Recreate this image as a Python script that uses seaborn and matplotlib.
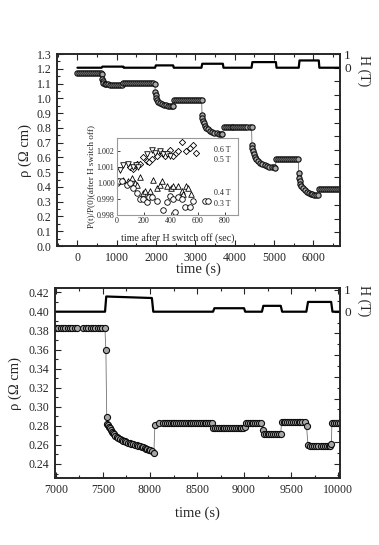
import numpy as np
import pandas as pd
import seaborn as sns
import matplotlib.pyplot as plt
from matplotlib.ticker import MultipleLocator, FuncFormatter

sns.set_theme(style='ticks')
plt.rcParams['font.family'] = ['Liberation Serif', 'DejaVu Serif']

# ---- top panel: resistivity vs time (s) ----
t_top = [
    0, 50, 100, 150, 200, 250, 300, 350, 400, 450, 500, 550, 600, 615,
    625, 640, 660, 690, 730, 780, 830, 880, 930, 980, 1030, 1080, 1130,
    1170, 1220, 1270, 1320, 1370, 1420, 1470, 1520, 1570, 1620, 1670, 1720, 1770, 1820, 1870, 1920, 1965,
    1985, 1995, 2010, 2030, 2060, 2100, 2150, 2200, 2250, 2300, 2350, 2400, 2430,
    2460, 2510, 2560, 2610, 2660, 2710, 2760, 2810, 2860, 2910, 2960, 3010, 3060, 3110, 3160,
    3170, 3180, 3195, 3215, 3240, 3270, 3310, 3360, 3420, 3480, 3540, 3600, 3650, 3690,
    3720, 3770, 3820, 3870, 3920, 3970, 4020, 4070, 4120, 4170, 4220, 4270, 4310, 4380, 4430,
    4440, 4450, 4465, 4485, 4510, 4545, 4590, 4640, 4700, 4760, 4820, 4880, 4940, 5000, 5030,
    5060, 5110, 5160, 5210, 5260, 5310, 5360, 5410, 5460, 5510, 5560, 5620,
    5630, 5640, 5655, 5675, 5700, 5735, 5780, 5830, 5880, 5930, 5980, 6030, 6080, 6120,
    6150, 6200, 6250, 6300, 6350, 6400, 6450, 6500, 6550, 6600, 6650, 6700,
]
rho_top = [
    1.171, 1.171, 1.171, 1.171, 1.171, 1.171, 1.171, 1.171, 1.171, 1.171, 1.171, 1.171, 1.170, 1.164,
    1.130, 1.115, 1.105, 1.100, 1.097, 1.094, 1.092, 1.091, 1.090, 1.089, 1.088, 1.088, 1.092,
    1.106, 1.106, 1.106, 1.106, 1.106, 1.106, 1.106, 1.106, 1.106, 1.106, 1.106, 1.106, 1.106, 1.106, 1.106, 1.106, 1.100,
    1.040, 1.020, 1.005, 0.990, 0.978, 0.968, 0.961, 0.956, 0.953, 0.951, 0.949, 0.948, 0.950,
    0.990, 0.990, 0.990, 0.990, 0.990, 0.990, 0.990, 0.990, 0.990, 0.990, 0.990, 0.990, 0.990, 0.990, 0.990,
    0.890, 0.866, 0.845, 0.830, 0.815, 0.800, 0.790, 0.780, 0.773, 0.767, 0.763, 0.761, 0.759, 0.758,
    0.805, 0.805, 0.805, 0.805, 0.805, 0.805, 0.805, 0.805, 0.805, 0.805, 0.805, 0.805, 0.805, 0.805, 0.805,
    0.685, 0.662, 0.640, 0.620, 0.605, 0.590, 0.575, 0.563, 0.553, 0.546, 0.541, 0.537, 0.534, 0.532, 0.531,
    0.590, 0.590, 0.590, 0.590, 0.590, 0.590, 0.590, 0.590, 0.590, 0.590, 0.590, 0.590,
    0.493, 0.460, 0.440, 0.420, 0.405, 0.390, 0.378, 0.368, 0.360, 0.355, 0.351, 0.348, 0.346, 0.345,
    0.383, 0.383, 0.383, 0.383, 0.383, 0.383, 0.383, 0.383, 0.383, 0.383, 0.383, 0.383,
]
h_top_t = [0, 615, 635, 1165, 1180, 1975, 1995, 2435, 2450, 3155, 3175, 3700, 3715, 4430, 4450, 5050, 5065, 5630, 5650, 6140, 6155, 6700]
h_top = [0, 0, 0.08, 0.08, 0, 0, 0.17, 0.17, 0, 0, 0.29, 0.29, 0, 0, 0.41, 0.41, 0, 0, 0.53, 0.53, 0, 0]

# ---- inset: normalised resistivity after field switch-off ----
ins_t_03 = [0, 15, 40, 74, 100, 123, 148, 172, 197, 222, 240, 258, 295, 340, 369, 394, 418, 430, 455, 480, 505, 541, 566, 652, 677]
ins_r_03 = [1.0000, 1.0001, 1.0001, 0.9999, 1.0000, 0.9997, 0.9994, 0.9990, 0.9990, 0.9988, 0.9991, 0.9991, 0.9989,
            0.9983, 0.9988, 0.9992, 0.9990, 0.9982, 0.9991, 0.9990, 0.9985, 0.9985, 0.9989, 0.9989, 0.9989]
ins_t_04 = [10, 49, 86, 111, 135, 148, 172, 197, 209, 246, 271, 300, 320, 332, 369, 400, 418, 455, 480, 492, 517, 529, 554]
ins_r_04 = [1.0001, 1.0002, 1.0001, 1.0003, 1.0000, 0.9999, 1.0004, 0.9994, 0.9995, 0.9995, 1.0002, 0.9997,
            0.9999, 1.0001, 0.9998, 0.9997, 0.9998, 0.9998, 0.9995, 0.9993, 0.9998, 0.9997, 0.9993]
ins_t_05 = [24, 49, 86, 123, 140, 160, 222, 259, 283, 320, 345, 369, 394]
ins_r_05 = [1.0008, 1.0011, 1.0012, 1.0010, 1.0011, 1.0010, 1.0018, 1.0021, 1.0019, 1.0020, 1.0018, 1.0018, 1.0017]
ins_t_06 = [100, 123, 150, 172, 197, 222, 240, 260, 295, 332, 360, 394, 418, 440, 456, 480, 517, 540, 566, 590]
ins_r_06 = [1.0010, 1.0009, 1.0012, 1.0012, 1.0016, 1.0014, 1.0013, 1.0015, 1.0017, 1.0019, 1.0017, 1.0021,
            1.0017, 1.0019, 1.0020, 1.0026, 1.0020, 1.0022, 1.0024, 1.0019]
ins_labels = ['0.6 T', '0.5 T', '0.4 T', '0.3 T']
ins_label_y = [1.0021, 1.00145, 0.99937, 0.9987]

# ---- bottom panel ----
t_bot = [
    7000, 7025, 7050, 7075, 7100, 7125, 7150, 7175, 7200, 7225, 7285,
    7320, 7345, 7370, 7395, 7420, 7445, 7470, 7495, 7520,
    7531, 7540, 7547, 7556, 7563, 7570, 7581, 7592, 7605, 7618, 7631, 7645, 7662, 7680, 7698, 7716, 7733, 7750,
    7768, 7785, 7803, 7822, 7840, 7857, 7875, 7892, 7910, 7928, 7943, 7958, 7973, 7988, 8003, 8017, 8041,
    8052, 8098,
    8140, 8160, 8180, 8200, 8220, 8240, 8260, 8280, 8300, 8320, 8340, 8360, 8380, 8400, 8420, 8440, 8460, 8480,
    8500, 8520, 8540, 8560, 8580, 8600, 8620, 8640, 8657,
    8672, 8692, 8712, 8732, 8752, 8772, 8792, 8812, 8832, 8852, 8872, 8892, 8912, 8932, 8952, 8972, 8990, 9008,
    9020, 9040, 9060, 9080, 9100, 9120, 9140, 9160, 9185,
    9197,
    9210, 9230, 9250, 9270, 9290, 9310, 9330, 9350, 9370, 9388,
    9400, 9420, 9440, 9460, 9480, 9500, 9520, 9540, 9560, 9580, 9600, 9620, 9645, 9664,
    9680, 9700, 9720, 9740, 9760, 9790, 9820, 9840, 9860, 9880, 9900, 9915, 9929,
    9933, 9955, 9975, 9995, 10015,
]
rho_bot = [
    0.383, 0.383, 0.383, 0.383, 0.383, 0.383, 0.383, 0.383, 0.383, 0.383, 0.383,
    0.383, 0.383, 0.383, 0.383, 0.383, 0.383, 0.383, 0.383, 0.383,
    0.360, 0.289, 0.2815, 0.2805, 0.2793, 0.278, 0.276, 0.274, 0.2725, 0.271, 0.2698, 0.2687, 0.2676, 0.2665,
    0.2655, 0.2645, 0.2637, 0.263, 0.2624, 0.2618, 0.2613, 0.2608, 0.2602, 0.2597, 0.2591, 0.2586, 0.258,
    0.2575, 0.2568, 0.2562, 0.2556, 0.255, 0.2544, 0.2538, 0.2512,
    0.281, 0.2834,
    0.2834, 0.2834, 0.2834, 0.2834, 0.2834, 0.2834, 0.2834, 0.2834, 0.2834, 0.2834, 0.2834, 0.2834, 0.2834,
    0.2834, 0.2834, 0.2834, 0.2834, 0.2834, 0.2834, 0.2834, 0.2834, 0.2834, 0.2834, 0.2834, 0.2834, 0.2834, 0.2834,
    0.2781, 0.2778, 0.2778, 0.2778, 0.2778, 0.2778, 0.2778, 0.2778, 0.2778, 0.2778, 0.2778, 0.2778, 0.2778,
    0.2778, 0.2778, 0.2778, 0.2778, 0.279,
    0.2834, 0.2834, 0.2834, 0.2834, 0.2834, 0.2834, 0.2834, 0.2834, 0.2834,
    0.2757,
    0.2711, 0.2711, 0.2711, 0.2711, 0.2711, 0.2711, 0.2711, 0.2711, 0.2711, 0.2711,
    0.2838, 0.2838, 0.2838, 0.2838, 0.2838, 0.2838, 0.2838, 0.2838, 0.2838, 0.2838, 0.2838, 0.2838, 0.2838, 0.280,
    0.2595, 0.2592, 0.2592, 0.2592, 0.2592, 0.2592, 0.2592, 0.2592, 0.2592, 0.2592, 0.2592, 0.2592, 0.261,
    0.2825, 0.2834, 0.2834, 0.2834, 0.2834,
]
h_bot_t = [7000, 7522, 7535, 8020, 8035, 8670, 8685, 9000, 9012, 9190, 9205, 9390, 9405, 9662, 9680, 9926, 9940, 10030]
h_bot = [0, 0, 0.70, 0.63, 0, 0, 0.16, 0.16, 0, 0, 0.27, 0.27, 0, 0, 0.45, 0.45, 0, 0]

mk = dict(marker='o', markerfacecolor='0.66', markeredgecolor='0.05', markeredgewidth=0.8)
lab_fs = 10
tick_fs = 8.6


def style_axes(ax):
    for s in ax.spines.values():
        s.set_linewidth(1.1)
    ax.tick_params(which='both', direction='in', top=True, right=False, labelsize=tick_fs,
                   width=0.8, pad=4)
    ax.tick_params(which='major', length=4)
    ax.tick_params(which='minor', length=2.2)


def style_h(ax2, label_y):
    ax2.tick_params(which='both', direction='in', labelsize=tick_fs + 1, width=0.8, pad=3)
    ax2.tick_params(which='major', length=4)
    ax2.tick_params(which='minor', length=2.2)
    ax2.yaxis.set_major_formatter(FuncFormatter(
        lambda v, p: f'{v:.0f}' if abs(v) < 1e-6 or abs(v - 1) < 1e-6 else ''))
    ax2.set_ylabel('H (T)', rotation=270, fontsize=lab_fs, va='center')
    ax2.yaxis.set_label_coords(1.085, label_y)


fig = plt.figure(figsize=(3.79, 5.45), dpi=100)

# top panel
ax1 = fig.add_axes([0.1504, 0.5486, 0.7467, 0.3523])
sns.lineplot(x=t_top, y=rho_top, ax=ax1, sort=False, estimator=None, color='0.45',
             lw=0.6, markersize=3.8, **mk)
ax1.set_xlim(-520, 6680)
ax1.set_ylim(0, 1.3)
ax1.xaxis.set_major_locator(MultipleLocator(1000))
ax1.xaxis.set_minor_locator(MultipleLocator(500))
ax1.yaxis.set_major_locator(MultipleLocator(0.1))
ax1.yaxis.set_minor_locator(MultipleLocator(0.05))
ax1.yaxis.set_major_formatter(FuncFormatter(lambda v, p: f'{v:.1f}'))
style_axes(ax1)
ax1.set_xlabel('time (s)', fontsize=lab_fs + 0.5, labelpad=-1)
ax1.set_ylabel('ρ (Ω cm)', fontsize=lab_fs + 0.5, labelpad=3)

ax1h = ax1.twinx()
sns.lineplot(x=h_top_t, y=h_top, ax=ax1h, sort=False, estimator=None, color='black', lw=1.6)
ax1h.set_ylim(-13.0, 1.0)
ax1h.yaxis.set_major_locator(MultipleLocator(1))
style_h(ax1h, 0.915)

# inset
axi = fig.add_axes([0.3078, 0.6055, 0.3208, 0.1407])
axi.set_facecolor('white')
for tt, rr, m in [(ins_t_06, ins_r_06, 'D'), (ins_t_05, ins_r_05, 'v'),
                  (ins_t_04, ins_r_04, '^'), (ins_t_03, ins_r_03, 'o')]:
    sns.scatterplot(x=tt, y=rr, ax=axi, marker=m, s=16 if m != 'D' else 10,
                    facecolor='white', edgecolor='black', linewidth=0.6)
for lbl, yy in zip(ins_labels, ins_label_y):
    axi.text(720, yy, lbl, fontsize=5.8, va='center', ha='left')
axi.set_xlim(0, 900)
axi.set_ylim(0.998, 1.0028)
axi.xaxis.set_major_locator(MultipleLocator(200))
axi.yaxis.set_major_locator(MultipleLocator(0.001))
axi.yaxis.set_major_formatter(FuncFormatter(lambda v, p: f'{v:.3f}'))
for s in axi.spines.values():
    s.set_linewidth(0.8)
    s.set_color('0.6')
axi.tick_params(direction='in', length=2, width=0.6, labelsize=5.8, pad=1.5)
axi.set_xlabel('time after H switch off (sec)', fontsize=7.2, labelpad=6)
axi.set_ylabel('P(t)/P(0)(after H switch off)', fontsize=6.6, labelpad=1)

# bottom panel
ax2 = fig.add_axes([0.1451, 0.1229, 0.752, 0.3486])
sns.lineplot(x=t_bot, y=rho_bot, ax=ax2, sort=False, estimator=None, color='0.45',
             lw=0.6, markersize=4.4, **mk)
ax2.set_xlim(6990, 10020)
ax2.set_ylim(0.2253, 0.4245)
ax2.xaxis.set_major_locator(MultipleLocator(500))
ax2.xaxis.set_minor_locator(MultipleLocator(250))
ax2.yaxis.set_major_locator(MultipleLocator(0.02))
ax2.yaxis.set_minor_locator(MultipleLocator(0.01))
ax2.yaxis.set_major_formatter(FuncFormatter(lambda v, p: f'{v:.2f}'))
style_axes(ax2)
ax2.set_xlabel('time (s)', fontsize=lab_fs + 0.5, labelpad=8)
ax2.set_ylabel('ρ (Ω cm)', fontsize=lab_fs + 0.5, labelpad=5)

ax2h = ax2.twinx()
sns.lineplot(x=h_bot_t, y=h_bot, ax=ax2h, sort=False, estimator=None, color='black', lw=1.6)
ax2h.set_ylim(-7.66, 1.09)
ax2h.yaxis.set_major_locator(MultipleLocator(1))
ax2h.yaxis.set_minor_locator(MultipleLocator(0.5))
style_h(ax2h, 0.935)

fig.savefig('out.png', dpi=100)
